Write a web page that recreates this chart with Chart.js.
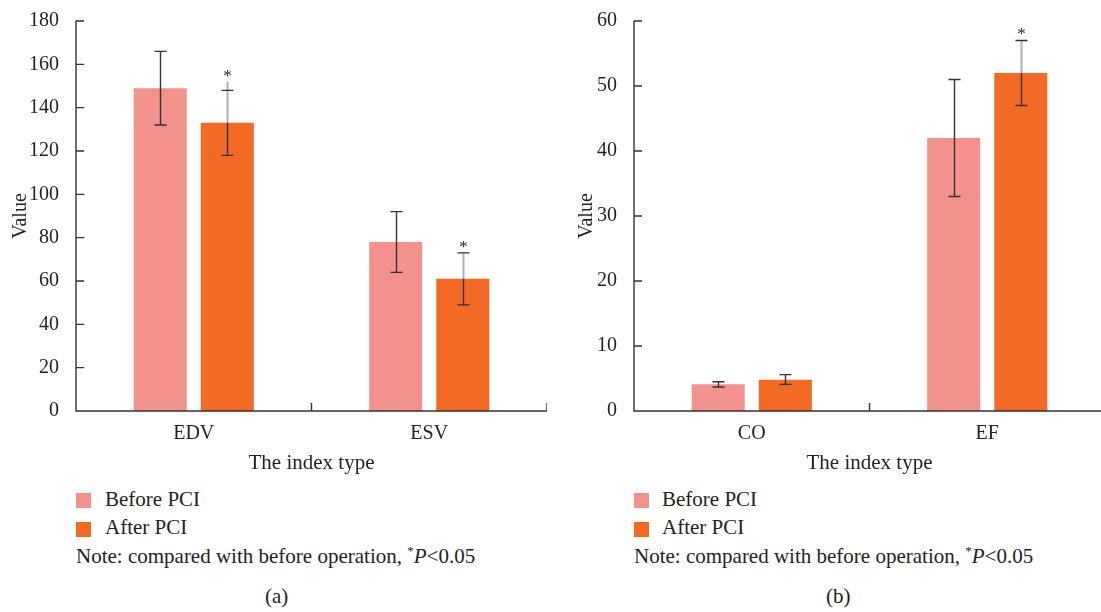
<!DOCTYPE html>
<html>
<head>
<meta charset="utf-8">
<script src="https://cdn.jsdelivr.net/npm/chart.js@4.4.1/dist/chart.umd.min.js"></script>
<style>
  html, body { margin: 0; padding: 0; background: #fff; overflow: hidden; }
  body { width: 1101px; height: 612px; position: relative; font-family: "Liberation Serif", "DejaVu Serif", serif; color: #231f20; }
  .box { position: absolute; }
  canvas { display: block; }
  .txt { position: absolute; font-size: 21px; line-height: 20px; white-space: nowrap; }
  .sw { position: absolute; width: 15px; height: 15px; }
</style>
</head>
<body>
<div class="box" style="left:0;top:0;width:547px;height:480px;"><canvas id="chartA"></canvas></div>
<div class="box" style="left:560px;top:0;width:545px;height:480px;"><canvas id="chartB"></canvas></div>

<div class="sw" style="left:76px;top:493px;background:#f3918c;"></div>
<div class="txt" style="left:105px;top:489px;">Before PCI</div>
<div class="sw" style="left:76px;top:522px;background:#f26a24;"></div>
<div class="txt" style="left:105px;top:517px;">After PCI</div>
<div class="txt" style="left:76px;top:546px;">Note: compared with before operation, <sup style="font-size:13px;line-height:0;">*</sup><i>P</i>&lt;0.05</div>
<div class="txt" style="left:265px;top:586px;">(a)</div>

<div class="sw" style="left:634px;top:493px;background:#f3918c;"></div>
<div class="txt" style="left:662px;top:489px;">Before PCI</div>
<div class="sw" style="left:634px;top:522px;background:#f26a24;"></div>
<div class="txt" style="left:662px;top:517px;">After PCI</div>
<div class="txt" style="left:634px;top:546px;">Note: compared with before operation, <sup style="font-size:13px;line-height:0;">*</sup><i>P</i>&lt;0.05</div>
<div class="txt" style="left:826px;top:586px;">(b)</div>

<script>
// panel (a)
const labelsA = ['EDV', 'ESV'];
const beforeA = [149, 78];
const beforeLowA = [132, 64];
const beforeHighA = [166, 92];
const afterA = [133, 61];
const afterLowA = [118, 49];
const afterHighA = [148, 73];
const greyTopA = [152, 73];
const starA = [157, 78];

// panel (b)
const labelsB = ['CO', 'EF'];
const beforeB = [4.1, 42];
const beforeLowB = [3.7, 33];
const beforeHighB = [4.5, 51];
const afterB = [4.8, 52];
const afterLowB = [4.1, 47];
const afterHighB = [5.6, 57];
const greyTopB = [null, 57];
const starB = [null, 58.7];

const beforeColor = '#f3918c';
const afterColor = '#f26a24';
const inkColor = '#231f20';
const axisColor = '#333333';
const serif = '"Liberation Serif", "DejaVu Serif", serif';

// draws the axis lines with inward ticks
const axisPlugin = {
    id: 'axisLines',
    afterDraw(chart) {
        const ctx = chart.ctx;
        const area = chart.chartArea;
        const y = chart.scales.y;
        ctx.save();
        ctx.strokeStyle = axisColor;
        ctx.lineWidth = 1.4;
        ctx.beginPath();
        ctx.moveTo(area.left, y.getPixelForValue(y.max));
        ctx.lineTo(area.left, area.bottom);
        ctx.lineTo(area.right, area.bottom);
        y.ticks.forEach(t => {
            const py = y.getPixelForValue(t.value);
            ctx.moveTo(area.left, py);
            ctx.lineTo(area.left + 8, py);
        });
        const n = chart.data.labels.length;
        const step = (area.right - area.left) / n;
        for (let k = 1; k <= n; k++) {
            const px = area.left + k * step;
            ctx.moveTo(px, area.bottom);
            ctx.lineTo(px, area.bottom - 8);
        }
        ctx.stroke();
        ctx.restore();
    }
};

// error bars and significance stars
const errorBarPlugin = {
    id: 'errorBars',
    afterDatasetsDraw(chart) {
        const ctx = chart.ctx;
        const y = chart.scales.y;
        ctx.save();
        chart.data.datasets.forEach((ds, i) => {
            const meta = chart.getDatasetMeta(i);
            meta.data.forEach((bar, j) => {
                const cx = Math.round(bar.x) + 0.5;
                const lo = y.getPixelForValue(ds.errLow[j]);
                const hi = y.getPixelForValue(ds.errHigh[j]);
                const top = bar.y;
                ctx.lineWidth = 1.4;
                if (ds.greyTop && ds.greyTop[j] != null) {
                    ctx.strokeStyle = '#b0b0b0';
                    ctx.lineWidth = 2;
                    ctx.beginPath();
                    ctx.moveTo(cx, y.getPixelForValue(ds.greyTop[j]));
                    ctx.lineTo(cx, top);
                    ctx.stroke();
                    ctx.lineWidth = 1.4;
                    ctx.strokeStyle = axisColor;
                    ctx.beginPath();
                    ctx.moveTo(cx, top);
                    ctx.lineTo(cx, lo);
                } else {
                    ctx.strokeStyle = axisColor;
                    ctx.beginPath();
                    ctx.moveTo(cx, hi);
                    ctx.lineTo(cx, lo);
                }
                ctx.moveTo(cx - 6, hi);
                ctx.lineTo(cx + 6, hi);
                ctx.moveTo(cx - 6, lo);
                ctx.lineTo(cx + 6, lo);
                ctx.stroke();
                if (ds.star && ds.star[j] != null) {
                    ctx.fillStyle = inkColor;
                    ctx.font = '17px ' + serif;
                    ctx.textAlign = 'center';
                    ctx.textBaseline = 'alphabetic';
                    ctx.fillText('*', cx, y.getPixelForValue(ds.star[j]) + 10);
                }
            });
        });
        ctx.restore();
    }
};

function makeChart(id, labels, before, after, errs, yMax, yStep, yWidth, titlePad) {
    return new Chart(document.getElementById(id), {
        type: 'bar',
        data: {
            labels: labels,
            datasets: [{
                label: 'Before PCI',
                data: before,
                backgroundColor: beforeColor,
                errLow: errs.beforeLow,
                errHigh: errs.beforeHigh
            }, {
                label: 'After PCI',
                data: after,
                backgroundColor: afterColor,
                errLow: errs.afterLow,
                errHigh: errs.afterHigh,
                greyTop: errs.greyTop,
                star: errs.star
            }]
        },
        options: {
            responsive: true,
            maintainAspectRatio: false,
            animation: false,
            categoryPercentage: 0.57,
            barPercentage: 0.79,
            layout: { padding: { top: 19, right: 0, left: 0, bottom: 0 } },
            plugins: { legend: { display: false }, tooltip: { enabled: false } },
            scales: {
                x: {
                    grid: { display: false },
                    border: { display: false },
                    ticks: { color: inkColor, font: { family: serif, size: 20 }, padding: 3 },
                    title: { display: true, text: 'The index type', color: inkColor, font: { family: serif, size: 21 }, padding: { top: 6 } },
                    afterFit(scale) { scale.height = 69; }
                },
                y: {
                    min: 0,
                    max: yMax,
                    grid: { display: false },
                    border: { display: false },
                    ticks: { stepSize: yStep, color: inkColor, font: { family: serif, size: 20 }, padding: 9 },
                    title: { display: true, text: 'Value', color: inkColor, font: { family: serif, size: 20 }, padding: { top: titlePad, bottom: 0 } },
                    afterFit(scale) { scale.width = yWidth; }
                }
            }
        },
        plugins: [errorBarPlugin, axisPlugin]
    });
}

makeChart('chartA', labelsA, beforeA, afterA, {
    beforeLow: beforeLowA, beforeHigh: beforeHighA,
    afterLow: afterLowA, afterHigh: afterHighA,
    greyTop: greyTopA, star: starA
}, 180, 20, 76, 9);

makeChart('chartB', labelsB, beforeB, afterB, {
    beforeLow: beforeLowB, beforeHigh: beforeHighB,
    afterLow: afterLowB, afterHigh: afterHighB,
    greyTop: greyTopB, star: starB
}, 60, 10, 74, 15);
</script>
</body>
</html>
